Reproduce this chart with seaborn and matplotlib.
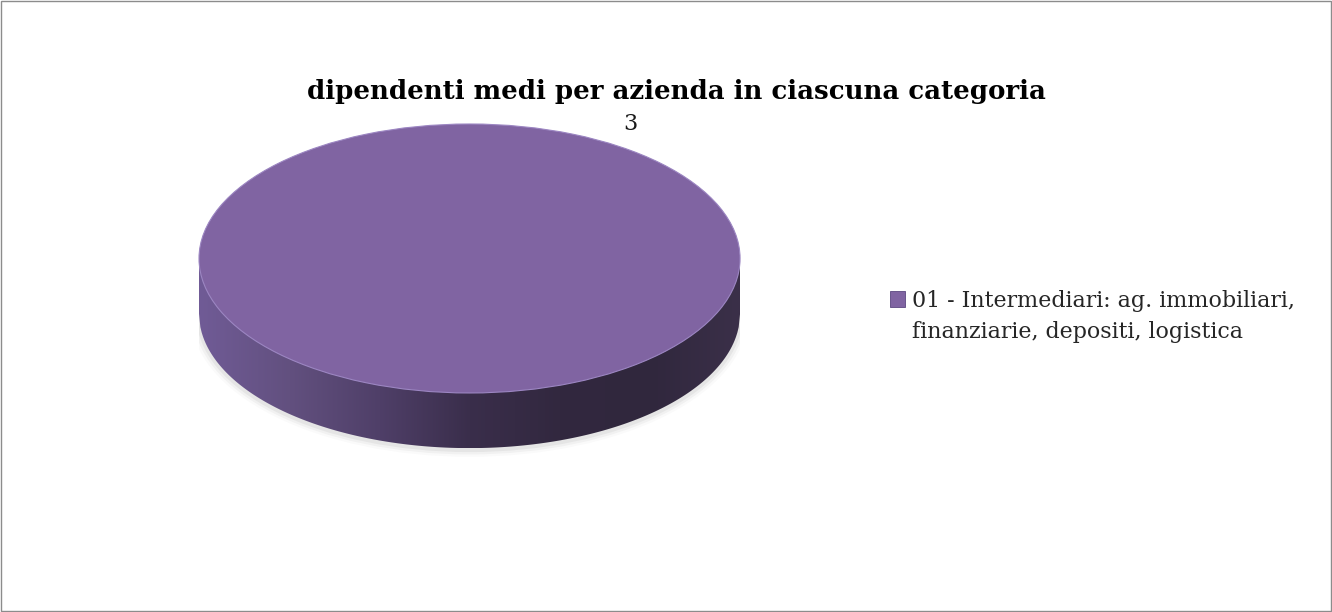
import numpy as np
import matplotlib
matplotlib.use("Agg")
import matplotlib.pyplot as plt
import seaborn as sns
from matplotlib.patches import Polygon, Patch, Ellipse, Rectangle

# data
categories = ["01 - Intermediari: ag. immobiliari,", "finanziarie, depositi, logistica"]
values = [3]
value_labels = ["3"]
title = "dipendenti medi per azienda in ciascuna categoria"

top_color = "#8064a2"
depth = 0.41

sns.set_style("white")
plt.rcParams['font.family'] = ['DejaVu Serif', 'Liberation Serif']

fig = plt.figure(figsize=(13.32, 6.12), dpi=100)
ax = fig.add_axes([0.1494, 0.248, 0.4062, 0.5494])

# soft shadow under the disc
for i, a in enumerate([0.04, 0.07, 0.10]):
    ax.add_patch(Ellipse((0, -depth - 0.012), 2.0 + 0.02 * (3 - i), 2.0 + 0.035 * (3 - i),
                         facecolor="gray", edgecolor="none", alpha=a, zorder=0))

# side of the disc with a horizontal gradient
xs = np.linspace(-1, 1, 400)
lower = -np.sqrt(np.clip(1 - xs ** 2, 0, None))
side_pts = np.vstack([np.column_stack([xs, lower - depth]),
                      np.column_stack([xs[::-1], np.zeros_like(xs)])])
side = Polygon(side_pts, closed=True, facecolor="none", edgecolor="none")
ax.add_patch(side)
grad_cmap = matplotlib.colors.LinearSegmentedColormap.from_list(
    "side", ["#705b96", "#62507f", "#4f3f68", "#3a2e4b", "#32283f", "#30273d", "#3b3049"])
grad = np.linspace(0, 1, 256).reshape(1, -1)
im = ax.imshow(grad, cmap=grad_cmap, extent=[-1, 1, -1 - depth, 0], aspect="auto", zorder=1)
im.set_clip_path(side)

# top face
wedges, texts = ax.pie(values, labels=value_labels, colors=[top_color], startangle=-120.7,
                       labeldistance=1.163, radius=1, center=(0, 0), frame=True,
                       wedgeprops=dict(edgecolor="#9c86c2", linewidth=0.8),
                       textprops=dict(fontsize=16, color="#1a1a1a"))
for w in wedges:
    w.set_zorder(2)
for t in texts:
    t.set_ha("center")
    t.set_va("center")

ax.set_aspect("auto")
ax.set_xlim(-1, 1)
ax.set_ylim(-1.5, 1.0)
ax.axis("off")

fig.text(676 / 1332, 1 - 99 / 612, title, ha="center", va="baseline",
         fontsize=18.7, fontweight="bold", color="#000000")

handles = [Patch(facecolor=top_color, edgecolor="#5b4780", linewidth=0.6),
           Patch(facecolor="none", edgecolor="none")]
fig.legend(handles, categories, loc="upper left", bbox_to_anchor=(890 / 1332, 1 - 290 / 612),
           frameon=False, fontsize=15.9, handlelength=0.68, handleheight=0.75,
           handletextpad=0.32, labelspacing=0.42, borderpad=0, borderaxespad=0)

# outer border
fig.patches.append(Rectangle((0.001, 0.002), 0.998, 0.996, transform=fig.transFigure,
                             fill=False, edgecolor="#8c8c8c", linewidth=1))

plt.savefig("out.png", dpi=100)
